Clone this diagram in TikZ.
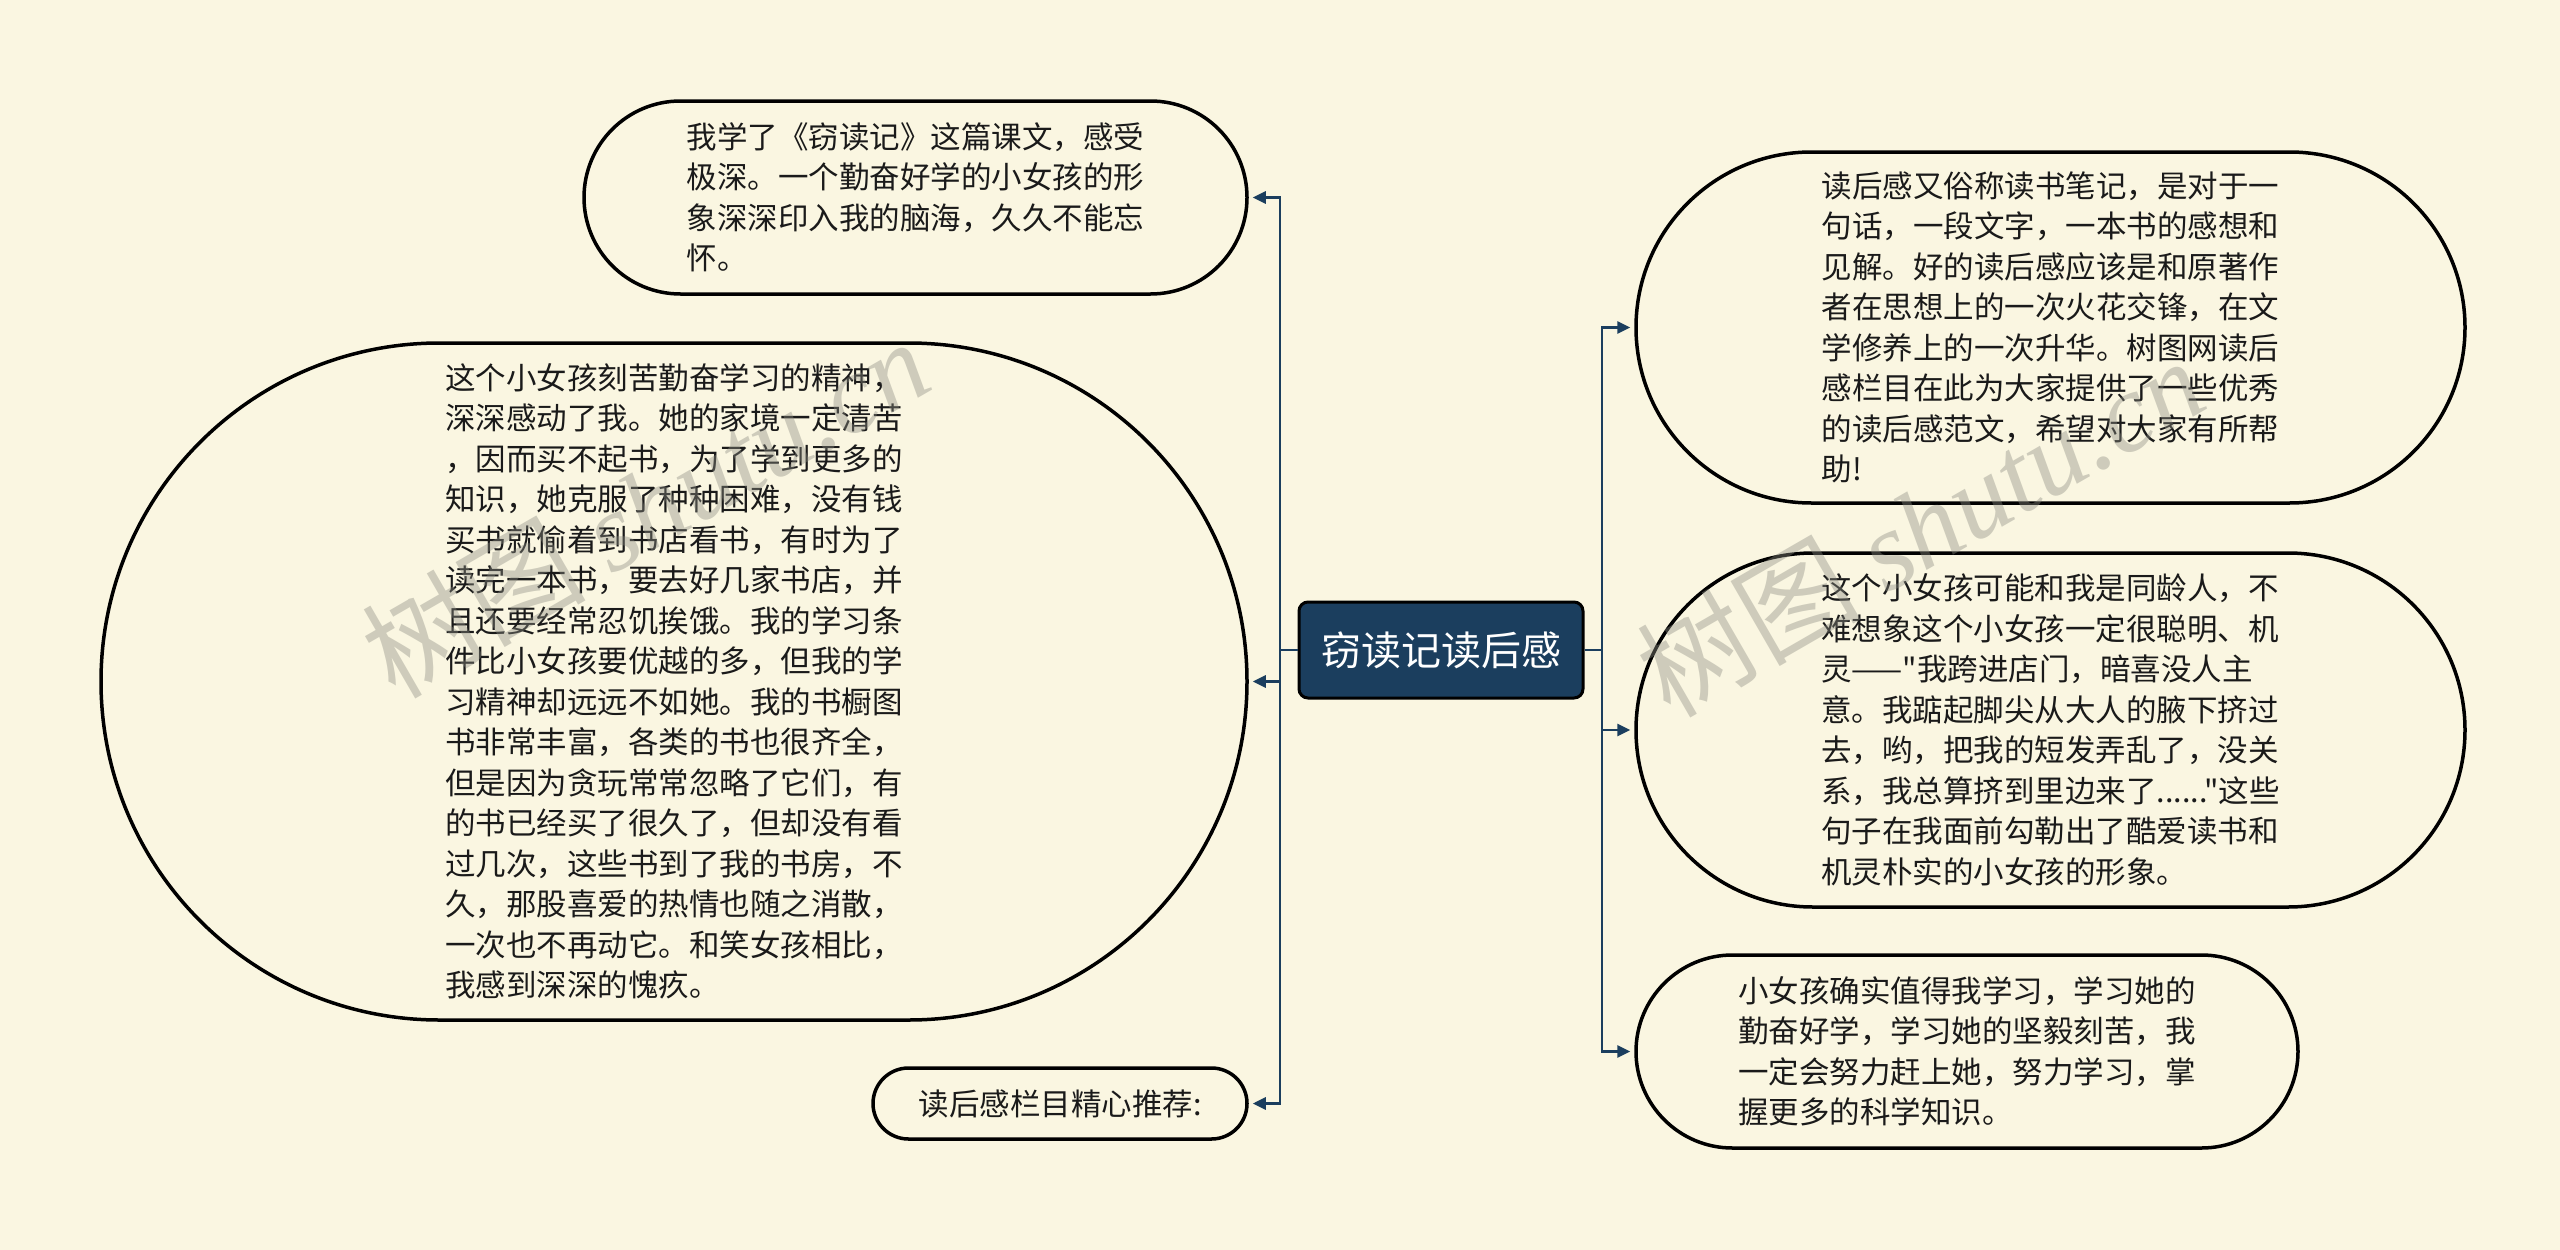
\documentclass[tikz,border=0pt]{standalone}
\usepackage{fontspec}
\setmainfont{Noto Sans CJK SC}[Ligatures=TeXOff]
\newfontfamily\wmlatin{Liberation Serif}
\usetikzlibrary{shapes.misc,arrows.meta}
\definecolor{bgc}{RGB}{250,246,225}
\definecolor{navy}{RGB}{27,62,94}
\definecolor{txt}{RGB}{26,26,26}
\definecolor{wm}{RGB}{140,140,130}
\begin{document}
\begin{tikzpicture}[x=1pt,y=-1pt,
  leaf/.style={draw=black, line width=3.5pt, fill=bgc, shape=rounded rectangle,
    inner sep=0pt, align=left, text=txt, font=\fontsize{30.5}{40.5}\selectfont},
  root/.style={draw=black, line width=3pt, fill=navy, rounded corners=9pt,
    inner sep=0pt, minimum width=284pt, minimum height=96pt, text=white,
    font=\fontsize{40}{48}\selectfont},
  conn/.style={draw=navy, line width=2.8pt, -{Triangle[length=13pt,width=12pt]}, shorten >=4pt},
  wmark/.style={text=wm, opacity=0.4, rotate=30, inner sep=0pt, font=\fontsize{112}{112}\selectfont}
]
\useasboundingbox (0,0) rectangle (2560,1250);
\fill[bgc] (0,0) rectangle (2560,1250);

\node[root] (root) at (1441,650) {窃读记读后感};

\node[leaf, minimum width=663pt, minimum height=193pt] (n1) at (915.5,197.5)
 {我学了《窃读记》这篇课文，感受\\极深。一个勤奋好学的小女孩的形\\象深深印入我的脑海，久久不能忘\\怀。};

\node[leaf, minimum width=1146pt, minimum height=677pt] (n2) at (674,681.5)
 {这个小女孩刻苦勤奋学习的精神，\\深深感动了我。她的家境一定清苦\\，因而买不起书，为了学到更多的\\知识，她克服了种种困难，没有钱\\买书就偷着到书店看书，有时为了\\读完一本书，要去好几家书店，并\\且还要经常忍饥挨饿。我的学习条\\件比小女孩要优越的多，但我的学\\习精神却远远不如她。我的书橱图\\书非常丰富，各类的书也很齐全，\\但是因为贪玩常常忽略了它们，有\\的书已经买了很久了，但却没有看\\过几次，这些书到了我的书房，不\\久，那股喜爱的热情也随之消散，\\一次也不再动它。和笑女孩相比，\\我感到深深的愧疚。};

\node[leaf, minimum width=374pt, minimum height=71pt] (n3) at (1060,1103.5)
 {读后感栏目精心推荐:};

\node[leaf, minimum width=829pt, minimum height=351pt] (n4) at (2050.5,327.5)
 {读后感又俗称读书笔记，是对于一\\句话，一段文字，一本书的感想和\\见解。好的读后感应该是和原著作\\者在思想上的一次火花交锋，在文\\学修养上的一次升华。树图网读后\\感栏目在此为大家提供了一些优秀\\的读后感范文，希望对大家有所帮\\助!};

\node[leaf, minimum width=829pt, minimum height=354pt] (n5) at (2050.5,730)
 {这个小女孩可能和我是同龄人，不\\难想象这个小女孩一定很聪明、机\\灵——"我跨进店门，暗喜没人主\\意。我踮起脚尖从大人的腋下挤过\\去，哟，把我的短发弄乱了，没关\\系，我总算挤到里边来了......"这些\\句子在我面前勾勒出了酷爱读书和\\机灵朴实的小女孩的形象。};

\node[leaf, minimum width=662pt, minimum height=193pt] (n6) at (1967,1051.5)
 {小女孩确实值得我学习，学习她的\\勤奋好学，学习她的坚毅刻苦，我\\一定会努力赶上她，努力学习，掌\\握更多的科学知识。};

\coordinate (tl) at (1280,650);
\coordinate (tr) at (1602,650);
\draw[conn] (root.west) -- (tl) |- (n1.east);
\draw[conn] (root.west) -- (tl) |- (n2.east);
\draw[conn] (root.west) -- (tl) |- (n3.east);
\draw[conn] (root.east) -- (tr) |- (n4.west);
\draw[conn] (root.east) -- (tr) |- (n5.west);
\draw[conn] (root.east) -- (tr) |- (n6.west);

\node[wmark] (wm1) at (645,507) {树图 {\wmlatin\itshape shutu.cn}};
\node[wmark] (wm2) at (1920,526) {树图 {\wmlatin\itshape shutu.cn}};
\end{tikzpicture}
\end{document}
